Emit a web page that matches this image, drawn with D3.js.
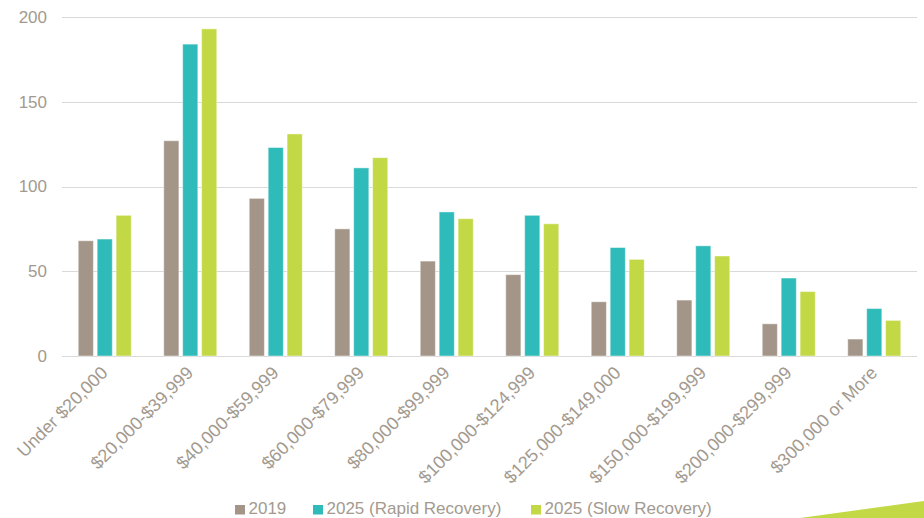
<!DOCTYPE html>
<html>
<head>
<meta charset="utf-8">
<script src="https://cdn.jsdelivr.net/npm/d3@7/dist/d3.min.js"></script>
<style>
  html, body { margin: 0; padding: 0; background: #fff; }
  svg { display: block; font-family: "Liberation Sans", Arial, sans-serif; }
</style>
</head>
<body>
<svg id="chart" width="924" height="518"></svg>
<script>
const categories = ["Under $20,000", "$20,000-$39,999", "$40,000-$59,999", "$60,000-$79,999", "$80,000-$99,999", "$100,000-$124,999", "$125,000-$149,000", "$150,000-$199,999", "$200,000-$299,999", "$300,000 or More"];
const seriesNames = ["2019", "2025 (Rapid Recovery)", "2025 (Slow Recovery)"];
const values2019 = [68, 127, 93, 75, 56, 48, 32, 33, 19, 10];
const valuesRapid = [69, 184, 123, 111, 85, 83, 64, 65, 46, 28];
const valuesSlow = [83, 193, 131, 117, 81, 78, 57, 59, 38, 21];
const yTicks = [0, 50, 100, 150, 200];
const colors = ["#a39689", "#2fbbb9", "#c3d845"];

const seriesValues = [values2019, valuesRapid, valuesSlow];
const svg = d3.select("#chart");
const textColor = "#a39a8f";

const x0 = d3.scaleBand().domain(categories).range([62, 917]).paddingInner(0.38).paddingOuter(0.19);
const x1 = d3.scaleBand().domain(seriesNames).range([0, x0.bandwidth()]).paddingInner(0.2).paddingOuter(0);
const y = d3.scaleLinear().domain([0, 200]).range([356, 17]);

// gridlines
svg.append("g").selectAll("line").data(yTicks).join("line")
  .attr("x1", 62).attr("x2", 917)
  .attr("y1", d => Math.round(y(d)) + 0.5).attr("y2", d => Math.round(y(d)) + 0.5)
  .attr("stroke", "#d9d9d9").attr("stroke-width", 1);

// y axis labels
svg.append("g").selectAll("text").data(yTicks).join("text")
  .attr("x", 47).attr("y", d => y(d)).attr("dy", "0.35em")
  .attr("text-anchor", "end").attr("fill", textColor).style("font-size", "17px")
  .text(d => d);

// bars
const groups = svg.append("g").selectAll("g").data(categories).join("g")
  .attr("transform", c => `translate(${x0(c)},0)`);
groups.selectAll("rect").data((c, i) => seriesNames.map((s, j) => ({ s, j, v: seriesValues[j][i] })))
  .join("rect")
  .attr("x", d => x1(d.s)).attr("width", x1.bandwidth())
  .attr("y", d => y(d.v)).attr("height", d => y(0) - y(d.v))
  .attr("fill", d => colors[d.j])
  .attr("stroke", "rgba(255,255,255,0.45)").attr("stroke-width", 1);

// x labels
svg.append("g").selectAll("text").data(categories).join("text")
  .attr("transform", c => `translate(${x0(c) + x0.bandwidth() / 2 + 4},${374}) rotate(-45)`)
  .attr("text-anchor", "end").attr("fill", textColor).style("font-size", "18px")
  .text(c => c);

// legend
const legendX = [235, 313, 531];
const leg = svg.append("g").selectAll("g").data(seriesNames).join("g")
  .attr("transform", (d, i) => `translate(${legendX[i]},505)`);
leg.append("rect").attr("width", 10).attr("height", 9.5).attr("fill", (d, i) => colors[i]);
leg.append("text").attr("x", 13.5).attr("y", 9)
  .attr("fill", textColor).style("font-size", "17px").text(d => d);

// decorative swoosh
svg.append("path").attr("d", "M800,518 L924,501 L924,518 Z").attr("fill", "#c3d845");
</script>
</body>
</html>
